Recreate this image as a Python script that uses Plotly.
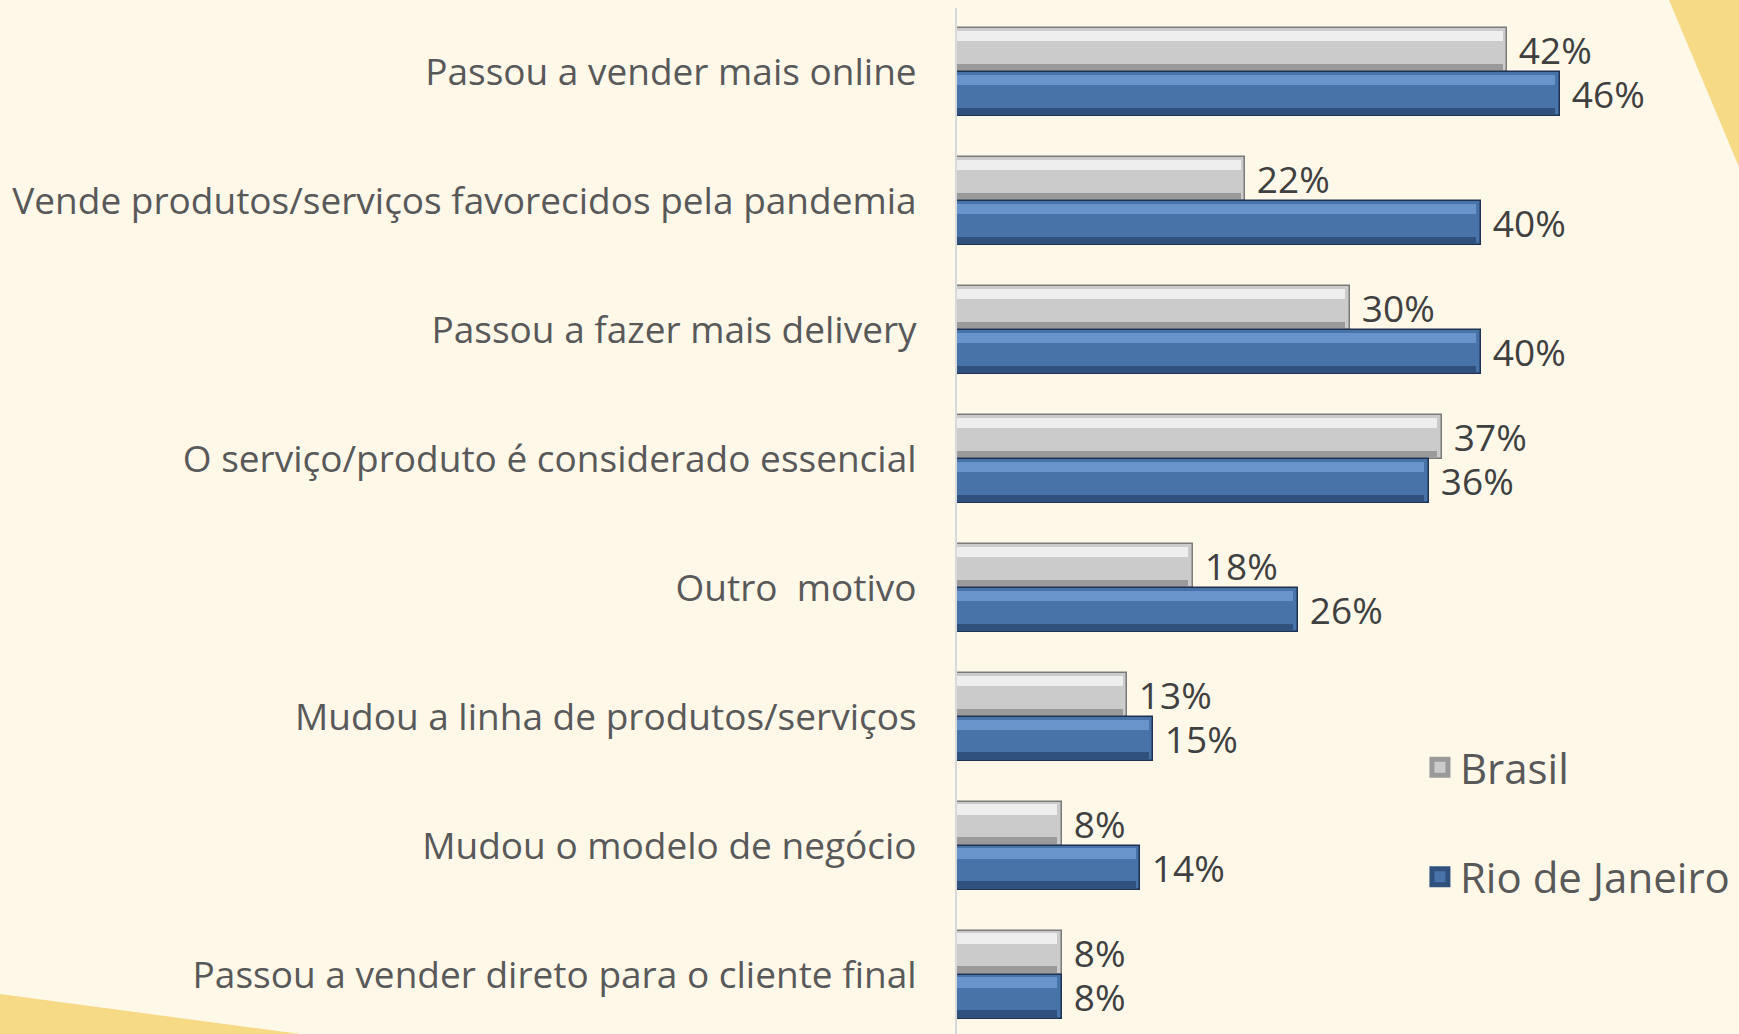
import plotly.graph_objects as go

# categories, top to bottom
categorias = [
    "Passou a vender mais online",
    "Vende produtos/serviços favorecidos pela pandemia",
    "Passou a fazer mais delivery",
    "O serviço/produto é considerado essencial",
    "Outro  motivo",
    "Mudou a linha de produtos/serviços",
    "Mudou o modelo de negócio",
    "Passou a vender direto para o cliente final",
]
brasil = [42, 22, 30, 37, 18, 13, 8, 8]
rio = [46, 40, 40, 36, 26, 15, 14, 8]
series = ["Brasil", "Rio de Janeiro"]

BG = "#FEF8E9"
YELLOW = "#F6DA86"
FONT = "Open Sans"
BW = 0.341  # bar thickness in category units

fig = go.Figure()


def bevel_bar(name, values, offset, body, light, dark, edge):
    fig.add_trace(go.Bar(
        name=name, y=categorias, x=values, orientation="h",
        offset=offset, width=BW,
        marker=dict(color=body, line=dict(color=edge, width=1.5)),
        text=[f"\u00a0{v}%" for v in values],
        textposition="outside", cliponaxis=False, constraintext="none",
        textfont=dict(family=FONT, size=37, color="#404040"),
        showlegend=False, hoverinfo="skip",
    ))
    # top highlight strip
    fig.add_trace(go.Bar(
        y=categorias, x=[v - 0.35 for v in values], orientation="h",
        offset=offset + 0.02, width=0.08,
        marker=dict(color=light, line=dict(width=0)),
        showlegend=False, hoverinfo="skip",
    ))
    # bottom shade strip
    fig.add_trace(go.Bar(
        y=categorias, x=[v - 0.35 for v in values], orientation="h",
        offset=offset + BW - 0.065, width=0.05,
        marker=dict(color=dark, line=dict(width=0)),
        showlegend=False, hoverinfo="skip",
    ))
    # legend entry
    fig.add_trace(go.Scatter(
        name=name, x=[None], y=[None], mode="markers",
        marker=dict(symbol="square", size=16, color=body,
                    line=dict(color=dark, width=5)),
        legendgroup=name, showlegend=True, hoverinfo="skip",
    ))


bevel_bar(series[0], brasil, -BW, "#CBCBCB", "#EEEEEE", "#9A9A9A", "#7A7A7A")
bevel_bar(series[1], rio, 0, "#4873A8", "#6893CB", "#30517E", "#1E3352")

fig.update_layout(
    width=1739, height=1034,
    paper_bgcolor=BG, plot_bgcolor=BG,
    margin=dict(l=957, r=0, t=8, b=0),
    barmode="overlay",
    bargap=0,
    font=dict(family=FONT, color="#595959"),
    xaxis=dict(range=[0, 59.7], visible=False, fixedrange=True),
    yaxis=dict(
        range=[7.46, -0.5], showgrid=False, zeroline=False,
        showline=True, linecolor="#D9D9D9", linewidth=2,
        ticks="", ticklabelstandoff=31,
        tickfont=dict(family=FONT, size=37, color="#595959"),
    ),
    legend=dict(
        x=0.592, y=0.293, xanchor="left", yanchor="top",
        bgcolor="rgba(0,0,0,0)", traceorder="grouped", tracegroupgap=52,
        itemsizing="trace",
        font=dict(family=FONT, size=42, color="#595959"),
    ),
    shapes=[
        dict(type="path", xref="paper", yref="paper", layer="below",
             path="M 0.9105 1.0078 L 1.0 1.0078 L 1.0 0.845 Z",
             fillcolor=YELLOW, line=dict(width=0)),
        dict(type="path", xref="paper", yref="paper", layer="below",
             path="M -1.2238 0.039 L -0.8402 0 L -1.2238 0 Z",
             fillcolor=YELLOW, line=dict(width=0)),
    ],
)

fig.write_html(
    "out.html",
    config={"displayModeBar": False},
    post_script="document.body.style.margin='0';"
                "document.body.style.backgroundColor='#FEF8E9';",
)
